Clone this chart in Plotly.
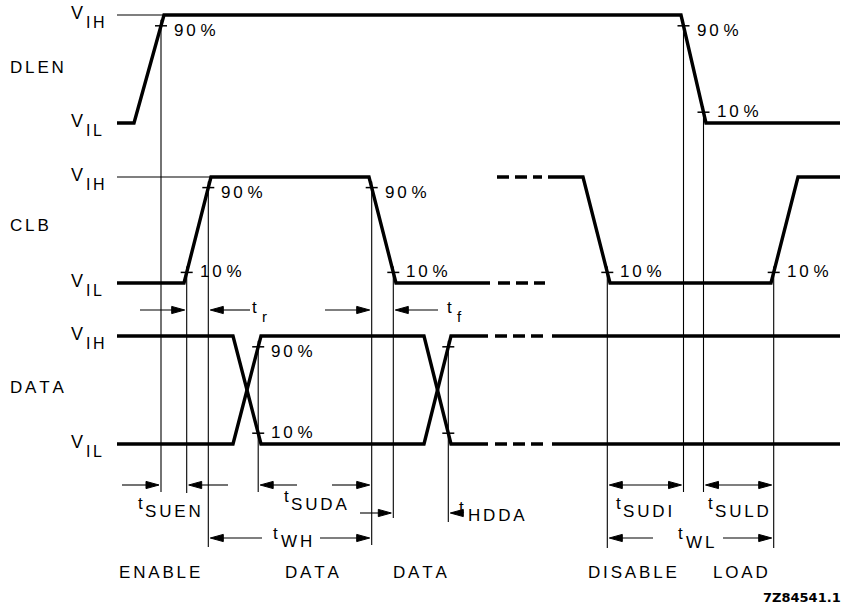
import plotly.graph_objects as go

# ---------------- data: timing diagram (time in diagram units) ----------------
SIGNALS = ["DLEN", "CLB", "DATA"]
V_IH_ROW = [15, 177, 336]      # vertical position of V_IH per signal row
V_IL_ROW = [123, 283, 444]     # vertical position of V_IL per signal row

DLEN_TIME = [117, 134, 164, 681, 706, 840]
DLEN_LEVEL = [0, 0, 1, 1, 0, 0]

CLB_TIME_1 = [117, 184, 211, 369, 396, 490]
CLB_LEVEL_1 = [0, 0, 1, 1, 0, 0]
CLB_TIME_2 = [548, 583, 610, 771, 798, 840]
CLB_LEVEL_2 = [1, 1, 0, 0, 1, 1]
CLB_DASH_START = [498, 497]
CLB_DASH_END = [545, 542]
CLB_DASH_LEVEL = [0, 1]

DATA_TIME_1 = [117, 233, 261, 424, 451, 488]
DATA_LEVEL_A = [1, 1, 0, 0, 1, 1]
DATA_LEVEL_B = [0, 0, 1, 1, 0, 0]
DATA_TIME_2 = [552, 840]
DATA_DASH_START = [495, 495]
DATA_DASH_END = [543, 543]
DATA_DASH_LEVEL = [1, 0]

REF_LINE_START = 117

BOTTOM_LABELS = ["ENABLE", "DATA", "DATA", "DISABLE", "LOAD"]
BOTTOM_LABEL_X = [159, 312, 420, 632, 740]

INK = "#000000"
FONT = "Liberation Sans"
THICK = 3.4
THIN = 1.1

fig = go.Figure()


def yl(row, level):
    return V_IL_ROW[row] + level * (V_IH_ROW[row] - V_IL_ROW[row])


def line(xs, ys, width, dash=None):
    fig.add_trace(go.Scatter(x=xs, y=ys, mode="lines",
                             line=dict(color=INK, width=width, dash=dash),
                             hoverinfo="skip", showlegend=False))


def track(s):
    out = ""
    for i, ch in enumerate(s):
        out += ch
        if i < len(s) - 1 and ch != " " and s[i + 1] != " ":
            out += "\u2006"
    return out


def text(x, y, s, size=17, xanchor="left", bold=False, family=FONT):
    fig.add_annotation(x=x, y=y, text=(f"<b>{s}</b>" if bold else s), showarrow=False,
                       xanchor=xanchor, yanchor="middle",
                       font=dict(family=family, size=size, color=INK))


def head(x_tip, y, direction, L=13, w=3.6):
    xb = x_tip - direction * L
    fig.add_trace(go.Scatter(x=[x_tip, xb, xb, x_tip], y=[y, y - w, y + w, y],
                             mode="lines", fill="toself", fillcolor=INK,
                             line=dict(color=INK, width=1),
                             hoverinfo="skip", showlegend=False))


def arrow(x_tail, x_tip, y):
    d = 1 if x_tip > x_tail else -1
    line([x_tail, x_tip - d * 8], [y, y], THIN)
    head(x_tip, y, d)


# ---------------- waveforms ----------------
line(DLEN_TIME, [yl(0, l) for l in DLEN_LEVEL], THICK)
line([REF_LINE_START, DLEN_TIME[2]], [yl(0, 1)] * 2, THIN)

line(CLB_TIME_1, [yl(1, l) for l in CLB_LEVEL_1], THICK)
line(CLB_TIME_2, [yl(1, l) for l in CLB_LEVEL_2], THICK)
line([REF_LINE_START, CLB_TIME_1[2]], [yl(1, 1)] * 2, THIN)
for s, e, l in zip(CLB_DASH_START, CLB_DASH_END, CLB_DASH_LEVEL):
    line([s, e], [yl(1, l)] * 2, THICK, dash="12px,6px")

line(DATA_TIME_1, [yl(2, l) for l in DATA_LEVEL_A], THICK)
line(DATA_TIME_1, [yl(2, l) for l in DATA_LEVEL_B], THICK)
for lv in (1, 0):
    line(DATA_TIME_2, [yl(2, lv)] * 2, THICK)
for s, e, l in zip(DATA_DASH_START, DATA_DASH_END, DATA_DASH_LEVEL):
    line([s, e], [yl(2, l)] * 2, THICK, dash="12px,6px")


# ---------------- threshold crossings ----------------
def cross(times, levels, seg, frac):
    t0, t1 = times[seg], times[seg + 1]
    l0, l1 = levels[seg], levels[seg + 1]
    return t0 + (frac - l0) / (l1 - l0) * (t1 - t0)


CROSSINGS = [
    ("dlen_r90", 0, DLEN_TIME, DLEN_LEVEL, 1, 0.9, "90 %"),
    ("dlen_f90", 0, DLEN_TIME, DLEN_LEVEL, 3, 0.9, "90 %"),
    ("dlen_f10", 0, DLEN_TIME, DLEN_LEVEL, 3, 0.1, "10 %"),
    ("clb_r10", 1, CLB_TIME_1, CLB_LEVEL_1, 1, 0.1, "10 %"),
    ("clb_r90", 1, CLB_TIME_1, CLB_LEVEL_1, 1, 0.9, "90 %"),
    ("clb_f90", 1, CLB_TIME_1, CLB_LEVEL_1, 3, 0.9, "90 %"),
    ("clb_f10", 1, CLB_TIME_1, CLB_LEVEL_1, 3, 0.1, "10 %"),
    ("clb_f10b", 1, CLB_TIME_2, CLB_LEVEL_2, 1, 0.1, "10 %"),
    ("clb_r10b", 1, CLB_TIME_2, CLB_LEVEL_2, 3, 0.1, "10 %"),
    ("data_r90", 2, DATA_TIME_1, DATA_LEVEL_B, 1, 0.9, "90 %"),
    ("data_f10", 2, DATA_TIME_1, DATA_LEVEL_A, 1, 0.1, "10 %"),
    ("data_f90b", 2, DATA_TIME_1, DATA_LEVEL_A, 3, 0.9, ""),
    ("data_r10b", 2, DATA_TIME_1, DATA_LEVEL_B, 3, 0.1, ""),
]
CX, CY = {}, {}
for key, row, times, levels, seg, frac, lab in CROSSINGS:
    x = cross(times, levels, seg, frac)
    y = yl(row, frac)
    CX[key], CY[key] = x, y
    line([x - 6, x + 6], [y, y], THIN + 0.4)
    if lab:
        text(x + 11, y + (5 if frac > 0.5 else -1), track(lab), size=17)

GUIDES = [("dlen_r90", 492), ("clb_r10", 493), ("clb_r90", 547), ("data_r90", 492),
          ("clb_f90", 545), ("clb_f10", 518), ("data_f90b", 522), ("clb_f10b", 548),
          ("dlen_f90", 492), ("dlen_f10", 492), ("clb_r10b", 548)]
for key, bottom in GUIDES:
    line([CX[key], CX[key]], [CY[key] - 6, bottom], THIN)

# ---------------- timing parameters ----------------
g = CX
# outside arrows
arrow(140, g["clb_r10"] - 2, 310); arrow(250, g["clb_r90"] + 2, 310)
arrow(325, g["clb_f90"] - 2, 310); arrow(438, g["clb_f10"] + 2, 310)
arrow(122, g["dlen_r90"] - 2, 485); arrow(228, g["clb_r10"] + 2, 485)
arrow(360, g["clb_f10"] - 2, 513); arrow(452, g["data_f90b"] + 2, 513)
# inside split arrows
arrow(297, g["data_r90"] + 2, 485); arrow(332, g["clb_f90"] - 2, 485)
arrow(262, g["clb_r90"] + 2, 538); arrow(320, g["clb_f90"] - 2, 538)
arrow(653, g["clb_f10b"] + 2, 538); arrow(723, g["clb_r10b"] - 2, 538)
# double arrows
for a, b in (("clb_f10b", "dlen_f90"), ("dlen_f10", "clb_r10b")):
    x0, x1 = g[a] + 2, g[b] - 2
    line([x0 + 8, x1 - 8], [485, 485], THIN)
    head(x0, 485, -1); head(x1, 485, 1)


def tlabel(xt, yt, sub, xs, ys, sub_size=17, t_size=17):
    text(xt, yt, "t", size=t_size)
    text(xs, ys, track(sub), size=sub_size)


tlabel(250, 307, "r", 260, 316, sub_size=15)
tlabel(445, 307, "f", 455, 316, sub_size=15)
tlabel(136, 503, "SUEN", 143, 511)
tlabel(282, 496, "SUDA", 289, 504)
tlabel(271, 533, "WH", 279, 541)
tlabel(457, 507, "HDDA", 466, 515)
tlabel(614, 503, "SUDI", 621, 511)
tlabel(706, 503, "SULD", 713, 511)
tlabel(676, 533, "WL", 684, 542)

# ---------------- row labels ----------------
ROW_LABEL_X = [8, 8, 8]
ROW_LABEL_Y = [67, 225, 387]
for name, x, y in zip(SIGNALS, ROW_LABEL_X, ROW_LABEL_Y):
    text(x, y, track(name), size=17)
for r in range(3):
    text(69, V_IH_ROW[r] - 2, "V", size=18)
    text(84, V_IH_ROW[r] + 7, track("IH"), size=16)
    text(69, V_IL_ROW[r] - 2, "V", size=18)
    text(84, V_IL_ROW[r] + 7, track("IL"), size=16)

for lab, x in zip(BOTTOM_LABELS, BOTTOM_LABEL_X):
    text(x, 572, track(lab), size=17, xanchor="center")
text(843, 597, "7Z84541.1", size=13, xanchor="right", bold=True, family="DejaVu Sans")

fig.update_layout(
    width=846, height=604, margin=dict(l=0, r=0, t=0, b=0),
    paper_bgcolor="white", plot_bgcolor="white", showlegend=False,
    xaxis=dict(range=[0, 846], visible=False, fixedrange=True),
    yaxis=dict(range=[604, 0], visible=False, fixedrange=True),
)
fig.write_html("out.html", config={"displayModeBar": False, "staticPlot": True},
               post_script="document.body.style.margin='0';")
